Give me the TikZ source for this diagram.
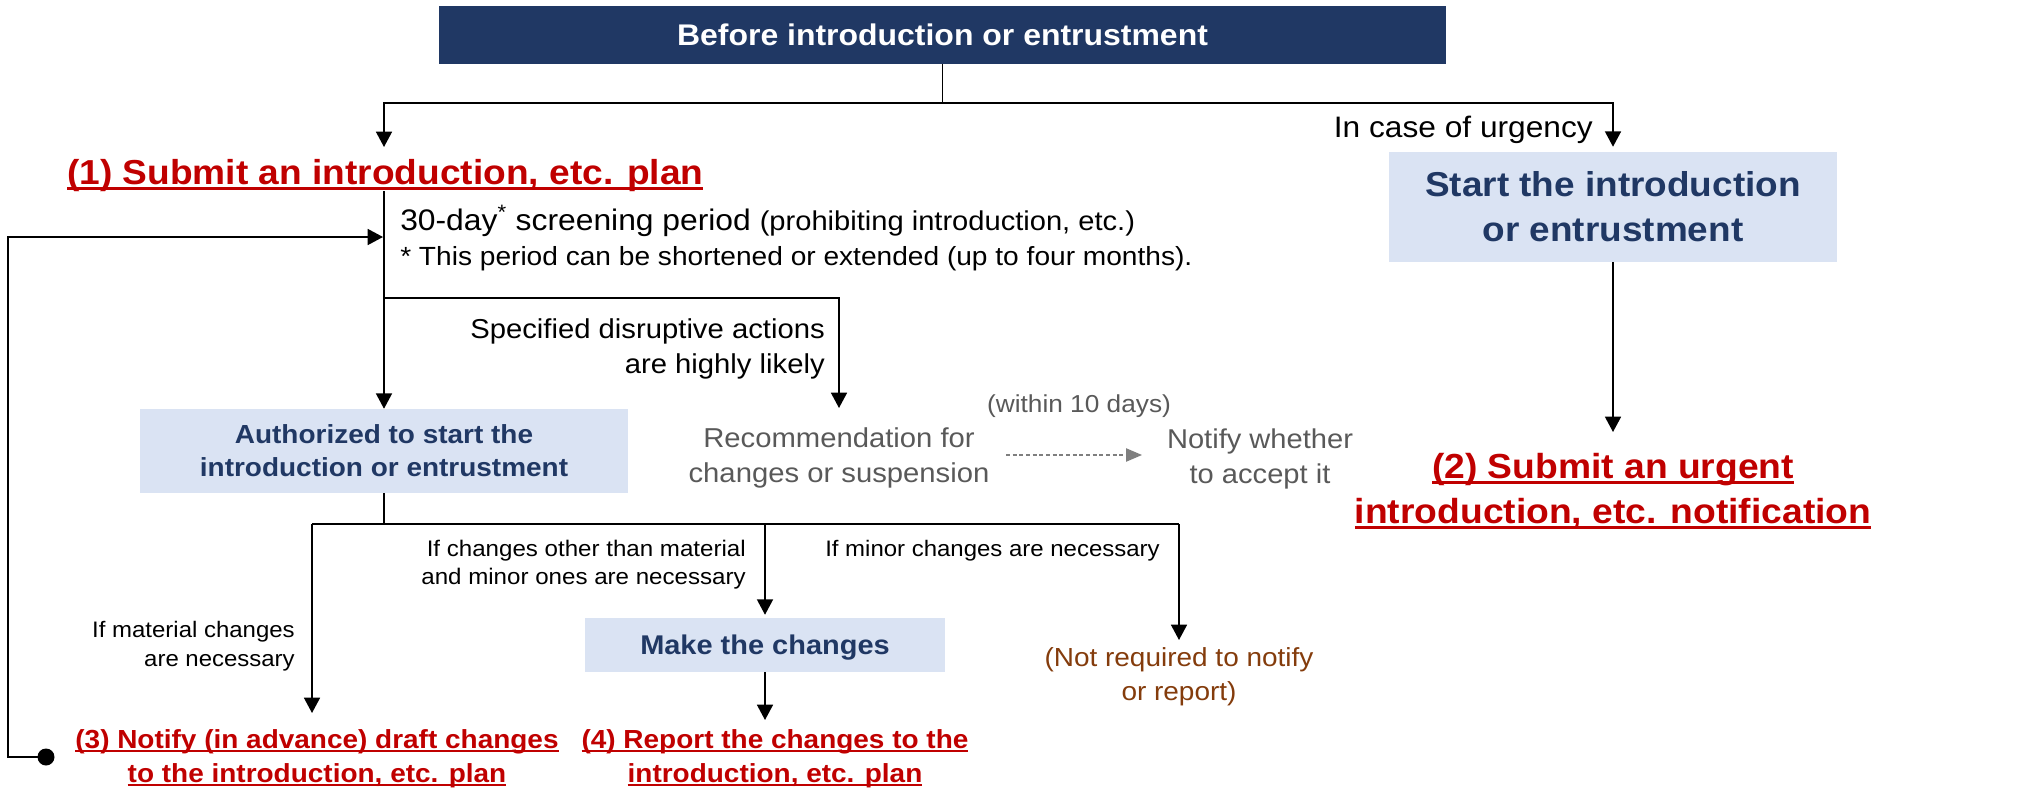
\documentclass[tikz,border=0pt]{standalone}
\usepackage{fontspec}
\setmainfont{Liberation Sans}[FakeStretch=1.07]
\usetikzlibrary{arrows.meta}
\definecolor{navy}{HTML}{203864}
\definecolor{lblue}{HTML}{DAE3F3}
\definecolor{dred}{HTML}{C00000}
\definecolor{dgray}{HTML}{595959}
\definecolor{mgray}{HTML}{7F7F7F}
\definecolor{tbrown}{HTML}{843C0C}
\newcommand\fsz[2]{\fontsize{#1pt}{#2pt}\selectfont}
\newsavebox\ulbox
\newcommand\uln[1]{\sbox\ulbox{#1}\rlap{\rule[-0.17em]{\wd\ulbox}{0.075em}}\usebox\ulbox}
\begin{document}
\begin{tikzpicture}[x=0.75pt,y=-0.75pt,
  ln/.style={line width=1.2pt},
  arr/.style={line width=1.2pt,-{Triangle[length=11.5pt,width=12pt]}},
  darr/.style={line width=0.9pt,mgray,dash pattern=on 3pt off 2pt,-{Triangle[length=12pt,width=10pt]}},
  box/.style={fill=lblue,inner sep=0pt,text=navy,align=center},
  txt/.style={inner sep=0pt},
  redlbl/.style={inner sep=0pt,text=dred,align=center}]
\useasboundingbox (0,0) rectangle (2017,789);

% boxes
\node[fill=navy,minimum width=755.25pt,minimum height=43.5pt,inner sep=0pt,text=white,
  font=\bfseries\fsz{22.4}{27},text height=16.1pt,text depth=0pt] (title) at (942.5,35) {Before introduction or entrustment};
\node[box,minimum width=336pt,minimum height=82.5pt,font=\bfseries\fsz{25.9}{33.75}] (start) at (1613,207) {Start the introduction\\or entrustment};
\node[box,minimum width=366pt,minimum height=63pt,font=\bfseries\fsz{19.6}{24.75}] (auth) at (384,451) {Authorized to start the\\introduction or entrustment};
\node[box,minimum width=270pt,minimum height=40.5pt,text depth=0pt,font=\bfseries\fsz{20.3}{24}] (make) at (765,645) {Make the changes};

% red labels (multi-line nodes: base = last line baseline)
\node[redlbl,anchor=base west,font=\bfseries\fsz{26}{33.75}] (plan1) at (67,184) {\uln{(1) Submit an introduction, etc. plan}};
\node[redlbl,anchor=base,font=\bfseries\fsz{26.1}{33.75}] (urgent2) at (1613,523) {\uln{(2) Submit an urgent}\\\uln{introduction, etc. notification}};
\node[redlbl,anchor=base,font=\bfseries\fsz{19.6}{25.5}] (notify3) at (317,782) {\uln{(3) Notify (in advance) draft changes}\\\uln{to the introduction, etc. plan}};
\node[redlbl,anchor=base,font=\bfseries\fsz{19.6}{25.5}] (report4) at (775,782) {\uln{(4) Report the changes to the}\\\uln{introduction, etc. plan}};

% plain texts
\node[txt,anchor=base east,font=\fsz{22.2}{26}] (urg) at (1593,137) {In case of urgency};
\node[txt,anchor=base west,font=\fsz{22.3}{26}] (period) at (400,230) {30-day\textsuperscript{*} screening period {\fsz{20.4}{26}(prohibiting introduction, etc.)}};
\node[txt,anchor=base west,font=\fsz{19.7}{24}] (foot) at (400,265) {* This period can be shortened or extended (up to four months).};
\node[txt,anchor=base east,align=right,font=\fsz{20.5}{26.25}] (spec) at (825,373) {Specified disruptive actions\\are highly likely};
\node[txt,anchor=base,align=center,text=dgray,font=\fsz{20.5}{26.25}] (rec) at (839,482) {Recommendation for\\changes or suspension};
\node[txt,anchor=base,text=dgray,font=\fsz{18.4}{22}] (within) at (1079,412) {(within 10 days)};
\node[txt,anchor=base,align=center,text=dgray,font=\fsz{20.4}{26.25}] (notify) at (1260,483) {Notify whether\\to accept it};
\node[txt,anchor=base east,align=right,font=\fsz{16.9}{21}] (ifother) at (746,584) {If changes other than material\\and minor ones are necessary};
\node[txt,anchor=base west,font=\fsz{16.8}{21}] (ifminor) at (825,556) {If minor changes are necessary};
\node[txt,anchor=base east,align=right,font=\fsz{16.8}{21.75}] (ifmat) at (295,666) {If material changes\\are necessary};
\node[txt,anchor=base,align=center,text=tbrown,font=\fsz{19.6}{25.5}] (notreq) at (1179,700) {(Not required to notify\\or report)};

% connector coordinates
\coordinate (jl) at (384,103);
\coordinate (p1in) at (384,147);
\coordinate (p1out) at (384,191);
\coordinate (br1) at (384,298);
\coordinate (recin) at (839,408);
\coordinate (fbin) at (383,237);
\coordinate (dsA) at (1006,455);
\coordinate (dsB) at (1142,455);
\coordinate (u2in) at (1613,432);
\coordinate (as) at (384,524);
\coordinate (mL) at (312,524);
\coordinate (mR) at (1179,524);
\coordinate (n3in) at (312,713);
\coordinate (nrin) at (1179,640);
\coordinate (r4in) at (765,720);
\node[circle,fill=black,inner sep=0pt,minimum size=12.75pt] (dot) at (46,757) {};

% connectors
\draw[ln] (title.south) -- (title.south |- jl);
\draw[arr] (title.south |- jl) -| (p1in);
\draw[arr,shorten >=3.75pt] (title.south |- jl) -| (start.north);
\draw[arr] (p1out) -- (auth.north);
\draw[arr] (br1) -| (recin);
\draw[arr] (dot.center) -- ++(-38,0) |- (fbin);
\draw[darr] (dsA) -- (dsB);
\draw[arr] (start.south) -- (u2in);
\draw[ln] (auth.south) -- (as);
\draw[ln] (mL) -- (mR);
\draw[arr] (mL) -- (n3in);
\draw[arr,shorten >=2.25pt] (make.north |- mL) -- (make.north);
\draw[arr] (mR) -- (nrin);
\draw[arr] (make.south) -- (r4in);
\end{tikzpicture}
\end{document}
